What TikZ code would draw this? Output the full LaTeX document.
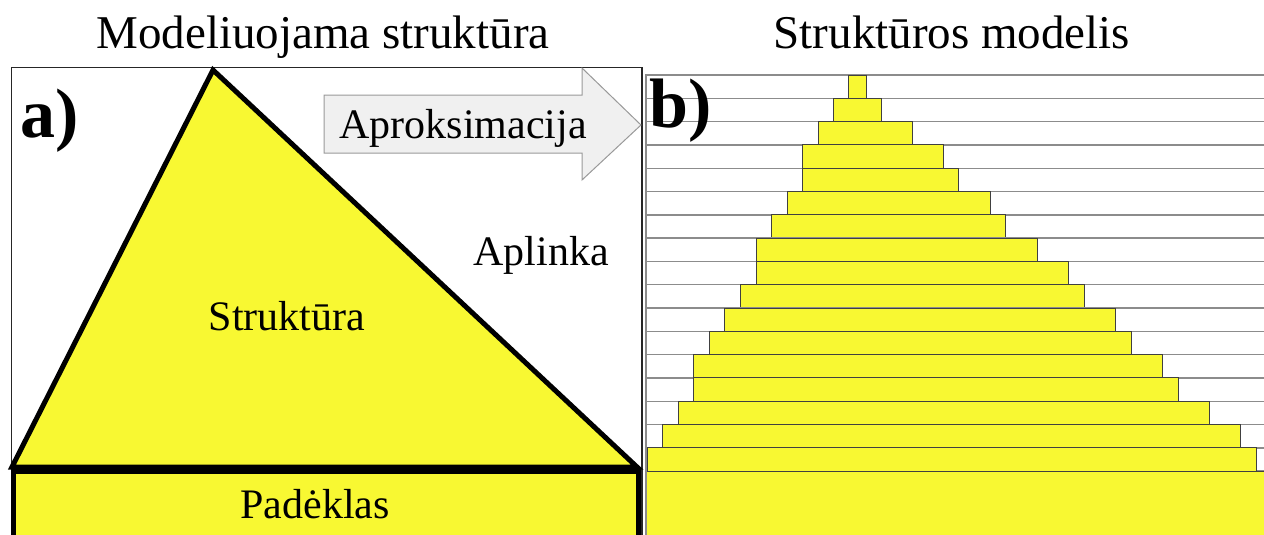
\documentclass[tikz,border=0pt]{standalone}
\usepackage{fontspec}
\setmainfont{Liberation Serif}
\definecolor{struct}{RGB}{248,248,50}
\definecolor{arrowfill}{RGB}{240,240,240}
\definecolor{gridgray}{RGB}{140,140,140}
\begin{document}
\begin{tikzpicture}[x=1pt,y=-1pt,
  title/.style={anchor=base,inner sep=0pt,font=\fontsize{47}{50}\selectfont},
  label/.style={anchor=base,inner sep=0pt,font=\fontsize{42}{45}\selectfont},
  panel/.style={anchor=base west,inner sep=0pt,font=\fontsize{70}{72}\selectfont\bfseries},
  thick line/.style={line width=5pt,line join=miter},
  gridline/.style={draw=gridgray,line width=1.4pt,fill=white},
  bar/.style={draw=black!75,line width=0.9pt,fill=struct},
  approx/.style={draw=gray!80,line width=1pt,fill=arrowfill}]
\useasboundingbox (0,0) rectangle (1264,535);
\clip (0,0) rectangle (1264,535);
% left panel frame
\draw[line width=1.3pt,black!85] (11.5,67.5) rectangle (642,545);
% structure triangle
\draw[thick line,fill=struct] (213,70) -- (12,467) -- (637,467) -- cycle;
% substrate
\draw[thick line,fill=struct] (13,471) rectangle (638,545);
% approximation arrow
\draw[approx] (324,95) -- (582,95) -- (582,68) -- (641,125) -- (582,180) -- (582,153) -- (324,153) -- cycle;
% right panel rows
\foreach \l/\r [count=\i] in {848/866,833/881,818/912,802/943,802/958,787/990,771/1005,756/1037,756/1068,740/1084,724/1115,709/1131,693/1162,693/1178,678/1209,662/1240,647/1256}{
  \pgfmathsetmacro\yt{75+(\i-1)*23.3}
  \pgfmathsetmacro\yb{75+\i*23.3}
  \draw[gridline] (646,\yt) rectangle (1272,\yb);
  \draw[bar] (\l,\yt) rectangle (\r,\yb);
}
\draw[bar] (646,471.1) rectangle (1272,545);
\draw[draw=gridgray,line width=1.4pt] (646,75) -- (646,545);
% texts
\node[title] (t1) at (323,49) {Modeliuojama struktūra};
\node[title] (t2) at (952,49) {Struktūros modelis};
\node[panel] (pa) at (20,137) {a)};
\node[panel] (pb) at (649,128) {b)};
\node[label] (ap) at (463,138) {Aproksimacija};
\node[label] (al) at (541,265) {Aplinka};
\node[label] (st) at (287,330) {Struktūra};
\node[label] (pd) at (315,518) {Padėklas};
\end{tikzpicture}
\end{document}
